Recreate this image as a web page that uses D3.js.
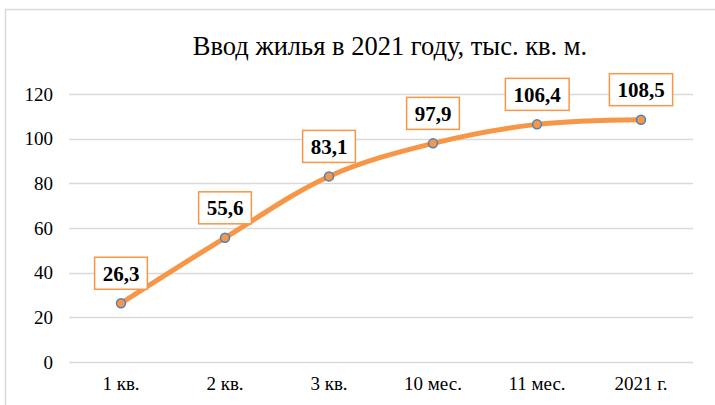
<!DOCTYPE html>
<html>
<head>
<meta charset="utf-8">
<script src="https://cdn.jsdelivr.net/npm/d3@7"></script>
<style>
  body { margin: 0; background: #fff; }
</style>
</head>
<body>
<div id="chart"></div>
<script>
// данные
const categories = ["1 кв.", "2 кв.", "3 кв.", "10 мес.", "11 мес.", "2021 г."];
const values = [26.3, 55.6, 83.1, 97.9, 106.4, 108.5];
const yTicks = [0, 20, 40, 60, 80, 100, 120];
const title = "Ввод жилья в 2021 году, тыс. кв. м.";

const FONT = "'Liberation Serif', 'Times New Roman', serif";
const width = 715, height = 405;
const margin = {top: 94, right: 22, bottom: 43, left: 69};

const svg = d3.select("#chart").append("svg")
  .attr("width", width)
  .attr("height", height);

// рамка
svg.append("rect")
  .attr("x", 5.5).attr("y", 9.5)
  .attr("width", width + 20).attr("height", height + 20)
  .attr("fill", "#fff")
  .attr("stroke", "#d9d9d9")
  .attr("stroke-width", 1.5);

svg.append("text")
  .attr("x", 390).attr("y", 55)
  .attr("text-anchor", "middle")
  .style("font-family", FONT)
  .style("font-size", "26.5px")
  .attr("fill", "#000")
  .text(title);

const x = d3.scaleBand()
  .domain(categories)
  .range([margin.left, width - margin.right]);

const y = d3.scaleLinear()
  .domain([0, 120])
  .range([height - margin.bottom, margin.top]);

// сетка
svg.append("g")
  .selectAll("line")
  .data(yTicks)
  .enter()
  .append("line")
  .attr("x1", margin.left).attr("x2", width - margin.right)
  .attr("y1", d => Math.round(y(d)) + 0.5)
  .attr("y2", d => Math.round(y(d)) + 0.5)
  .attr("stroke", "#d9d9d9")
  .attr("stroke-width", 1.3);

// ось Y
const yAxis = svg.append("g")
  .attr("transform", "translate(" + (margin.left - 16) + ",0)")
  .call(d3.axisLeft(y).tickValues(yTicks).tickSize(0).tickPadding(0));
yAxis.select(".domain").remove();
yAxis.selectAll("text")
  .style("font-family", FONT)
  .style("font-size", "19px")
  .attr("fill", "#000");

// ось X
const xAxis = svg.append("g")
  .attr("transform", "translate(0," + (height - margin.bottom) + ")")
  .call(d3.axisBottom(x).tickSize(0).tickPadding(15));
xAxis.select(".domain").remove();
xAxis.selectAll("text")
  .style("font-family", FONT)
  .style("font-size", "19px")
  .attr("fill", "#000");

const cx = d => x(d) + x.bandwidth() / 2;

// линия
const line = d3.line()
  .x((d, i) => cx(categories[i]))
  .y(d => y(d))
  .curve(d3.curveCatmullRom.alpha(0.5));

svg.append("path")
  .datum(values)
  .attr("d", line)
  .attr("fill", "none")
  .attr("stroke", "#f79646")
  .attr("stroke-width", 5)
  .attr("stroke-linecap", "square");

svg.append("g")
  .selectAll("circle")
  .data(values)
  .enter()
  .append("circle")
  .attr("cx", (d, i) => cx(categories[i]))
  .attr("cy", d => y(d))
  .attr("r", 4.5)
  .attr("fill", "#f79646")
  .attr("stroke", "#4f81bd")
  .attr("stroke-width", 1.5);

// подписи данных
const labels = svg.append("g")
  .selectAll("g")
  .data(values)
  .enter()
  .append("g")
  .attr("transform", (d, i) => "translate(" + cx(categories[i]) + "," + (y(d) - 30) + ")");

labels.append("text")
  .attr("text-anchor", "middle")
  .attr("dy", "0.35em")
  .style("font-family", FONT)
  .style("font-size", "21px")
  .style("font-weight", "bold")
  .attr("fill", "#000")
  .text(d => String(d).replace(".", ","));

labels.each(function() {
  const g = d3.select(this);
  const bb = g.select("text").node().getBBox();
  g.insert("rect", "text")
    .attr("x", bb.x - 8)
    .attr("y", -16)
    .attr("width", bb.width + 16)
    .attr("height", 32)
    .attr("fill", "#fff")
    .attr("stroke", "#f79646")
    .attr("stroke-width", 1.5);
});
</script>
</body>
</html>
